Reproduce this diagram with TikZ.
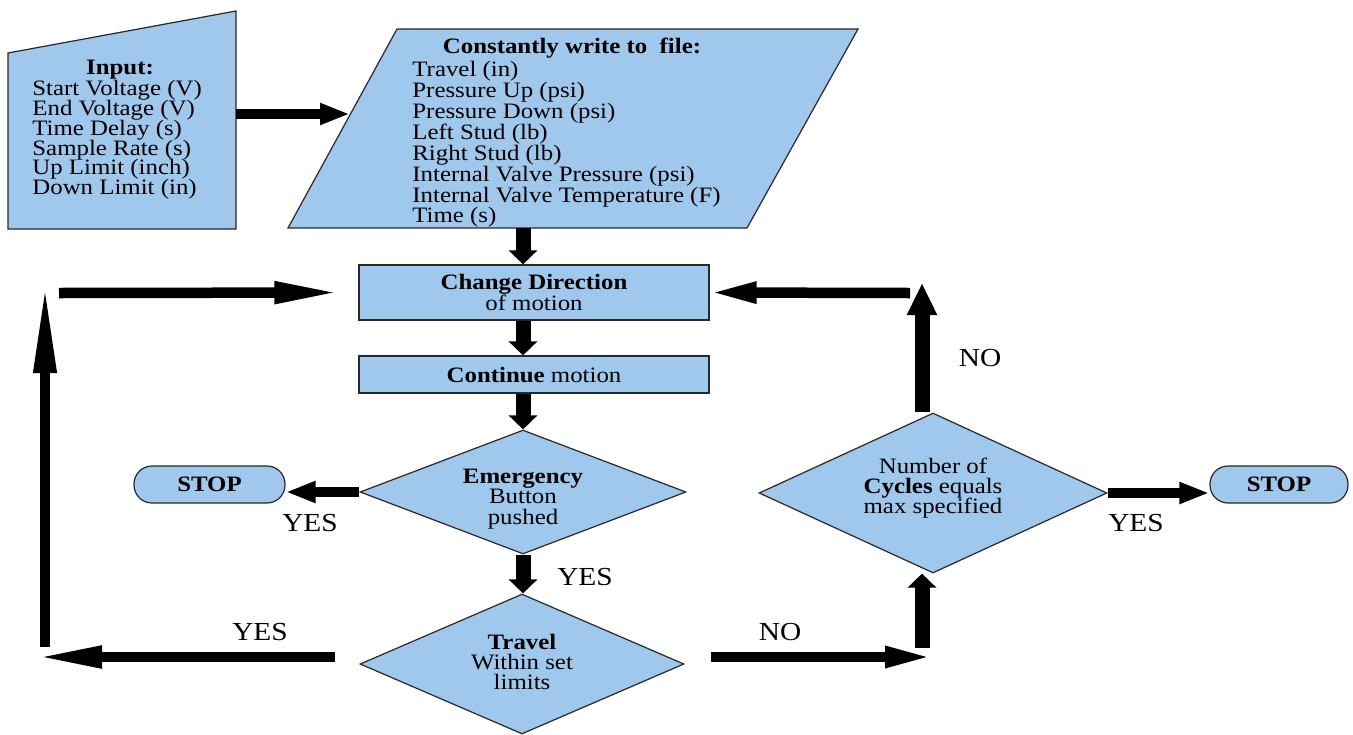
\documentclass[tikz,border=0pt]{standalone}
\usepackage{fontspec}
\setmainfont{Liberation Serif}[FakeStretch=1.13]
\usetikzlibrary{shapes.geometric,arrows.meta}
\definecolor{boxfill}{RGB}{160,200,236}
\definecolor{boxline}{RGB}{40,40,40}
\begin{document}
\setlength{\lineskiplimit}{-10pt}
\begin{tikzpicture}[x=0.5pt,y=-0.5pt,
  shp/.style={draw=boxline,fill=boxfill,line width=0.6pt},
  procbox/.style={shp,rectangle,minimum width=175pt,inner sep=0pt,align=center,font=\fontsize{11}{10.5}\selectfont},
  decision/.style={shp,diamond,inner sep=0pt},
  term/.style={shp,rectangle,rounded corners=9pt,minimum height=18.5pt,inner sep=0pt,font=\fontsize{11}{11}\selectfont\bfseries},
  txt/.style={inner sep=0pt,align=center,font=\fontsize{11}{10.2}\selectfont},
  lbl/.style={inner sep=0pt,font=\fontsize{13}{13}\selectfont},
  varr/.style={line width=7.5pt,-{Triangle[length=7pt,width=14pt]}},
  varrb/.style={line width=7.5pt,-{Triangle[length=16pt,width=14pt]}},
  harr/.style={line width=5.25pt,-{Triangle[length=15pt,width=10pt]}},
  harrm/.style={line width=5.25pt,-{Triangle[length=25pt,width=9.5pt]}},
  longarr/.style={line width=5.25pt,-{Triangle[length=34pt,width=10pt]}},
  vlong/.style={line width=5pt,-{Triangle[length=45pt,width=10.5pt]}},
]
\useasboundingbox (0,0) rectangle (1353,734);

% Input (manual input shape)
\draw[shp] (8,53) -- (236,11) -- (236,229) -- (8,229) -- cycle;
\coordinate (inE) at (236,114);
\node[txt,font=\fontsize{11}{10}\selectfont\bfseries] (intitle) at (120,70) {Input:};
\node[txt,align=left,anchor=north west,font=\fontsize{11}{9.9}\selectfont] (inlist) at (32,80)
  {Start Voltage (V)\\End Voltage (V)\\Time Delay (s)\\Sample Rate (s)\\Up Limit (inch)\\Down Limit (in)};

% Output parallelogram
\draw[shp] (397,29) -- (858,29) -- (747,228) -- (288,228) -- cycle;
\coordinate (pgW) at (350,114);
\coordinate (pgS) at (523,228);
\node[txt,font=\fontsize{11}{10}\selectfont\bfseries] (pgtitle) at (572,48) {Constantly write to\ \ file:};
\node[txt,align=left,anchor=north west,font=\fontsize{11}{10.45}\selectfont] (pglist) at (412,61)
  {Travel (in)\\Pressure Up (psi)\\Pressure Down (psi)\\Left Stud (lb)\\Right Stud (lb)\\Internal Valve Pressure (psi)\\Internal Valve Temperature (F)\\Time (s)};

% Process boxes
\node[procbox,minimum height=27.5pt] (cd) at (534,292.5) {\textbf{Change Direction}\\of motion};
\node[procbox,minimum height=18.5pt] (cont) at (534,374.5) {\textbf{Continue} motion};

% Decisions
\node[decision,minimum width=163pt,minimum height=62pt] (em) at (523,492) {};
\node[txt] (emt) at (523,499) {\textbf{Emergency}\\Button\\pushed};
\node[decision,minimum width=162pt,minimum height=70pt] (tr) at (522,664) {};
\node[txt] (trt) at (522,662) {\textbf{Travel}\\Within set\\limits};
\node[decision,minimum width=174pt,minimum height=80pt] (cy) at (933,493) {};
\node[txt] (cyt) at (933,488) {Number of\\\textbf{Cycles} equals\\max specified};

% Terminators
\node[term,minimum width=75.5pt] (stopL) at (209.5,484.5) {STOP};
\node[term,minimum width=69pt] (stopR) at (1279,484.5) {STOP};

% Free-end coordinates
\coordinate (tl) at (34,657);
\coordinate (bl) at (45,647);
\coordinate (ul) at (45,283);
\coordinate (cl) at (59,293);
\coordinate (tc) at (935,657);
\coordinate (bc) at (922,648);
\coordinate (uc) at (922,283);
\coordinate (rc) at (910,293);

% Connectors
\draw[harr] (inE) -- (pgW);
\draw[varr] (pgS) -- (cd.north -| pgS);
\draw[varr] (cd.south -| pgS) -- (cont.north -| pgS);
\draw[varr] (cont.south -| pgS) -- (em.north);
\draw[harr] (em.west) -- (stopL.east |- em.west);
\draw[varr] (em.south) -- (tr.north -| em.south);
\draw[longarr] (tr.west) ++(-24,-7) -- (tl);
\draw[vlong] (bl) -- (ul);
\draw[longarr,shorten >=8pt] (cl) -- (cd.west);
\draw[harrm] (tr.east) ++(26,-7) -- (tc);
\draw[varr] (bc) -- (cy.south -| bc);
\draw[varrb] (cy.north -| uc) -- (uc);
\draw[harrm,shorten >=-1.5pt] (rc) -- (cd.east);
\draw[harr] (cy.east) -- (stopR.west |- cy.east);

% Labels
\node[lbl] (y1) at (310,523) {YES};
\node[lbl] (y2) at (585,577) {YES};
\node[lbl] (y3) at (260,632) {YES};
\node[lbl] (n1) at (780,632) {NO};
\node[lbl] (n2) at (980,358) {NO};
\node[lbl] (y4) at (1136,523) {YES};
\end{tikzpicture}
\end{document}
